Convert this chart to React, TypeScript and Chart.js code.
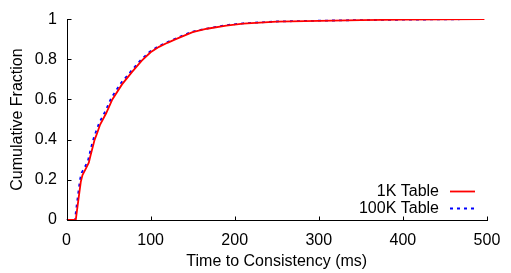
import React, { useEffect, useRef } from "react";
import { Chart, registerables } from "chart.js";

Chart.register(...registerables);

const seriesNames = ["1K Table", "100K Table"];
const seriesColors = ["#ff0000", "#0000ff"];

const time1K = [0, 11, 13, 15, 17, 19, 23, 26.5, 28.5, 30.5, 33.5, 36.5, 40, 47, 54.5, 66, 78, 89.5, 100, 110, 120, 130, 140, 150, 167, 190, 210, 250, 300, 350, 400, 450, 497];
const frac1K = [0, 0, 0.064, 0.128, 0.19, 0.224, 0.256, 0.285, 0.32, 0.352, 0.4, 0.433, 0.475, 0.53, 0.6, 0.675, 0.737, 0.793, 0.835, 0.862, 0.882, 0.9, 0.918, 0.935, 0.952, 0.968, 0.977, 0.987, 0.991, 0.995, 0.997, 0.999, 1];

const time100K = [0, 10, 12, 14, 16, 18, 22, 25.5, 27.5, 29.5, 32.5, 35.5, 39, 46, 53.5, 65, 77, 88.5, 99, 109, 119, 129, 139, 149, 167, 190, 210, 250, 300, 350, 400, 450, 497];
const frac100K = [0, 0, 0.07, 0.135, 0.2, 0.235, 0.265, 0.295, 0.33, 0.365, 0.41, 0.445, 0.485, 0.54, 0.61, 0.683, 0.742, 0.797, 0.838, 0.864, 0.884, 0.902, 0.92, 0.937, 0.953, 0.97, 0.979, 0.988, 0.992, 0.995, 0.997, 0.999, 1];

const xTicks = [0, 100, 200, 300, 400, 500];
const yTicks = [0, 0.2, 0.4, 0.6, 0.8, 1];

const FONT = "'Liberation Sans', Arial, Helvetica, sans-serif";

const toPoints = (xs: number[], ys: number[]) => xs.map((x, i) => ({ x, y: ys[i] }));

const axesPlugin = {
  id: "gnuplotAxes",
  afterDraw(chart: any) {
    const ctx = chart.ctx;
    const { left, right, top, bottom } = chart.chartArea;
    const xs = chart.scales.x;
    const ys = chart.scales.y;
    ctx.save();
    ctx.strokeStyle = "#000";
    ctx.lineWidth = 1;
    const L = Math.round(left) + 0.5;
    const B = Math.round(bottom) + 0.5;
    ctx.beginPath();
    ctx.moveTo(L, Math.round(top));
    ctx.lineTo(L, B);
    ctx.lineTo(Math.round(right) + 1, B);
    ctx.stroke();
    ctx.beginPath();
    xTicks.forEach((v) => {
      const px = Math.round(xs.getPixelForValue(v)) + 0.5;
      ctx.moveTo(px, B);
      ctx.lineTo(px, B - 4);
    });
    yTicks.forEach((v) => {
      const py = Math.round(ys.getPixelForValue(v)) + 0.5;
      ctx.moveTo(L, py);
      ctx.lineTo(L + 4, py);
    });
    ctx.stroke();

    // legend (inside, bottom right)
    ctx.font = `16px ${FONT}`;
    ctx.textAlign = "right";
    ctx.textBaseline = "middle";
    ctx.fillStyle = "#000";
    const rows = [190.7, 207.7];
    chart.data.datasets.forEach((ds: any, i: number) => {
      const y = rows[i];
      ctx.fillText(ds.label, 439, y + 1);
      ctx.beginPath();
      ctx.strokeStyle = ds.borderColor;
      ctx.lineWidth = ds.borderWidth;
      ctx.setLineDash(ds.borderDash || []);
      ctx.moveTo(450, Math.round(y) + 0.5);
      ctx.lineTo(475, Math.round(y) + 0.5);
      ctx.stroke();
      ctx.setLineDash([]);
    });
    ctx.restore();
  },
};

export default function App() {
  const ref = useRef<HTMLCanvasElement | null>(null);

  useEffect(() => {
    if (!ref.current) return;
    Chart.defaults.color = "#000";
    const chart = new Chart(ref.current, {
      type: "line",
      data: {
        datasets: [
          {
            label: seriesNames[0],
            data: toPoints(time1K, frac1K),
            borderColor: seriesColors[0],
            borderWidth: 1.8,
            pointRadius: 0,
            tension: 0,
            fill: false,
          },
          {
            label: seriesNames[1],
            data: toPoints(time100K, frac100K),
            borderColor: seriesColors[1],
            borderWidth: 1.8,
            borderDash: [3, 4],
            pointRadius: 0,
            tension: 0,
            fill: false,
          },
        ],
      },
      options: {
        animation: false,
        responsive: false,
        devicePixelRatio: 1,
        layout: { padding: { top: 12, right: 15.5, left: 0, bottom: 0 } },
        plugins: { legend: { display: false }, tooltip: { enabled: false } },
        scales: {
          x: {
            type: "linear",
            min: 0,
            max: 500,
            afterFit: (s: any) => {
              s.height = 53;
            },
            afterBuildTicks: (s: any) => {
              s.ticks = xTicks.map((v) => ({ value: v }));
            },
            grid: { display: false, drawTicks: false },
            border: { display: false },
            ticks: {
              padding: 10.7,
              maxRotation: 0,
              font: { family: FONT, size: 16 },
              color: "#000",
            },
            title: {
              display: true,
              text: "Time to Consistency (ms)",
              font: { family: FONT, size: 16 },
              color: "#000",
              padding: { top: 0, bottom: 1.4 },
            },
          },
          y: {
            type: "linear",
            min: 0,
            max: 1,
            afterFit: (s: any) => {
              s.width = 66.5;
            },
            afterBuildTicks: (s: any) => {
              s.ticks = yTicks.map((v) => ({ value: v }));
            },
            grid: { display: false, drawTicks: false },
            border: { display: false },
            ticks: {
              padding: 9.5,
              font: { family: FONT, size: 16 },
              color: "#000",
              callback: (v: any) => String(+Number(v).toFixed(1)),
            },
            title: {
              display: true,
              text: "Cumulative Fraction",
              font: { family: FONT, size: 16 },
              color: "#000",
              padding: { top: 8.4, bottom: 0 },
            },
          },
        },
      },
      plugins: [axesPlugin],
    });
    return () => chart.destroy();
  }, []);

  return (
    <div style={{ position: "absolute", left: 0, top: 0, width: 511, height: 273, background: "#fff" }}>
      <canvas ref={ref} width={511} height={273} style={{ display: "block" }} />
    </div>
  );
}
